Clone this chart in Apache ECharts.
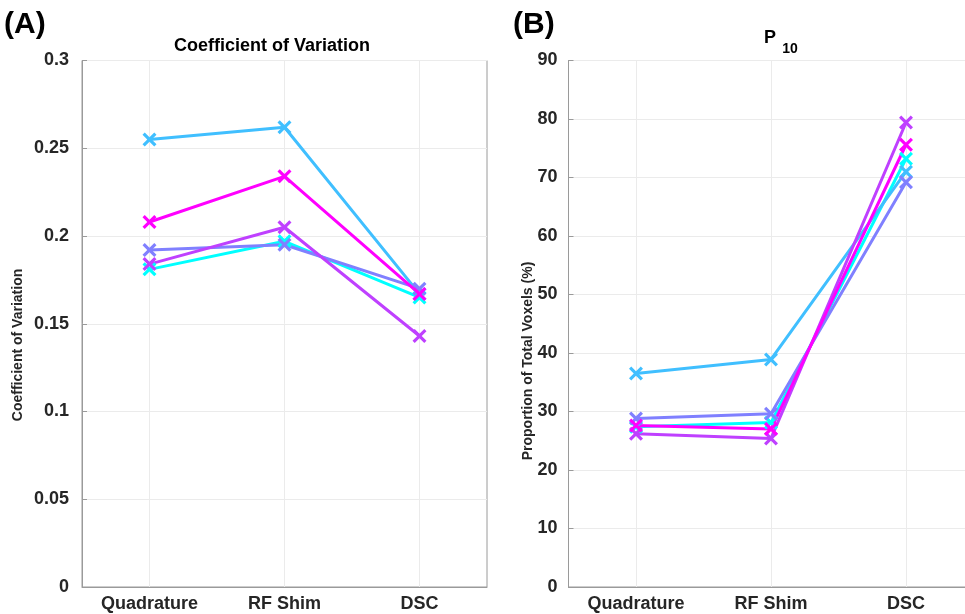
<!DOCTYPE html>
<html>
<head>
<meta charset="utf-8">
<script src="https://cdn.jsdelivr.net/npm/echarts@6/dist/echarts.min.js"></script>
<style>
  html, body { margin: 0; padding: 0; background: #fff; }
  #chart { width: 965px; height: 614px; }
</style>
</head>
<body>
<div id="chart"></div>
<script>
// categories and tick values
const methods = ["Quadrature", "RF Shim", "DSC"];
const covTicks = [0, 0.05, 0.1, 0.15, 0.2, 0.25, 0.3];
const p10Ticks = [0, 10, 20, 30, 40, 50, 60, 70, 80, 90];

// (A) coefficient of variation, one line per subject
const covCyan = [0.181, 0.197, 0.165];
const covBlue = [0.255, 0.262, 0.167];
const covViolet = [0.192, 0.195, 0.170];
const covPurple = [0.184, 0.205, 0.143];
const covMagenta = [0.208, 0.234, 0.167];

// (B) P10, proportion of total voxels (%)
const p10Cyan = [27.4, 28.1, 73.2];
const p10Blue = [36.5, 38.9, 71.0];
const p10Violet = [28.8, 29.6, 69.2];
const p10Purple = [26.2, 25.4, 79.4];
const p10Magenta = [27.6, 27.0, 75.6];

const lineColors = ["#00FFFF", "#40BFFF", "#8080FF", "#BF40FF", "#FF00FF"];
const covSets = [covCyan, covBlue, covViolet, covPurple, covMagenta];
const p10Sets = [p10Cyan, p10Blue, p10Violet, p10Purple, p10Magenta];

const FONT = "Liberation Sans";
const crossPath = "path://M0,1.6L1.6,0L5,3.4L8.4,0L10,1.6L6.6,5L10,8.4L8.4,10L5,6.6L1.6,10L0,8.4L3.4,5Z";

function makeSeries(sets, idx) {
  return sets.map((vals, i) => ({
    type: "line",
    xAxisIndex: idx,
    yAxisIndex: idx,
    data: vals,
    symbol: crossPath,
    symbolSize: 14,
    showSymbol: true,
    lineStyle: { width: 3, color: lineColors[i] },
    itemStyle: { color: lineColors[i] },
    z: 3,
    silent: true,
  }));
}

function xAxisOf(idx) {
  return {
    type: "category",
    gridIndex: idx,
    data: methods,
    boundaryGap: true,
    axisLine: { lineStyle: { color: "#9a9a9a", width: 1 } },
    axisTick: { inside: true, alignWithLabel: true, length: 5, lineStyle: { color: "#9a9a9a" } },
    axisLabel: { fontFamily: FONT, fontWeight: "bold", fontSize: 18, color: "#262626", margin: 8 },
    splitLine: { show: true, alignWithLabel: true, lineStyle: { color: "#ebebeb" } },
  };
}

function yAxisOf(idx, ticks, margin) {
  return {
    type: "value",
    gridIndex: idx,
    min: ticks[0],
    max: ticks[ticks.length - 1],
    interval: ticks[1] - ticks[0],
    axisLine: { show: true, lineStyle: { color: "#9a9a9a", width: 1 } },
    axisTick: { show: true, inside: true, length: 5, lineStyle: { color: "#9a9a9a" } },
    axisLabel: {
      fontFamily: FONT, fontWeight: "bold", fontSize: 18, color: "#262626", margin: margin,
      formatter: (v) => String(parseFloat(v.toFixed(2))),
    },
    splitLine: { show: true, lineStyle: { color: "#ebebeb" } },
  };
}

const chart = echarts.init(document.getElementById("chart"));
chart.setOption({
  animation: false,
  grid: [
    { left: 82, top: 60.5, width: 405, height: 526.5, show: true, borderColor: "#9a9a9a", borderWidth: 1, outerBoundsMode: "none", containLabel: false },
    { left: 568.5, top: 60.5, width: 405, height: 526.5, show: true, borderColor: "#9a9a9a", borderWidth: 1, outerBoundsMode: "none", containLabel: false },
  ],
  xAxis: [xAxisOf(0), xAxisOf(1)],
  yAxis: [yAxisOf(0, covTicks, 13), yAxisOf(1, p10Ticks, 11)],
  series: makeSeries(covSets, 0).concat(makeSeries(p10Sets, 1)),
  graphic: [
    { type: "text", left: 4, top: 10, style: { text: "(A)", fontFamily: FONT, fontWeight: "bold", fontSize: 30, fill: "#000" } },
    { type: "text", left: 513, top: 10, style: { text: "(B)", fontFamily: FONT, fontWeight: "bold", fontSize: 30, fill: "#000" } },
    { type: "text", x: 272, y: 46, style: { text: "Coefficient of Variation", fontFamily: FONT, fontWeight: "bold", fontSize: 18, fill: "#000", align: "center", verticalAlign: "middle" } },
    { type: "text", x: 770, y: 38, style: { text: "P", fontFamily: FONT, fontWeight: "bold", fontSize: 18, fill: "#000", align: "center", verticalAlign: "middle" } },
    { type: "text", x: 790, y: 49, style: { text: "10", fontFamily: FONT, fontWeight: "bold", fontSize: 14, fill: "#000", align: "center", verticalAlign: "middle" } },
    { type: "text", x: 18, y: 345, rotation: Math.PI / 2, style: { text: "Coefficient of Variation", fontFamily: FONT, fontWeight: "bold", fontSize: 14, fill: "#262626", align: "center", verticalAlign: "middle" } },
    { type: "text", x: 528, y: 361, rotation: Math.PI / 2, style: { text: "Proportion of Total Voxels (%)", fontFamily: FONT, fontWeight: "bold", fontSize: 14, fill: "#262626", align: "center", verticalAlign: "middle" } },
  ],
});
</script>
</body>
</html>
